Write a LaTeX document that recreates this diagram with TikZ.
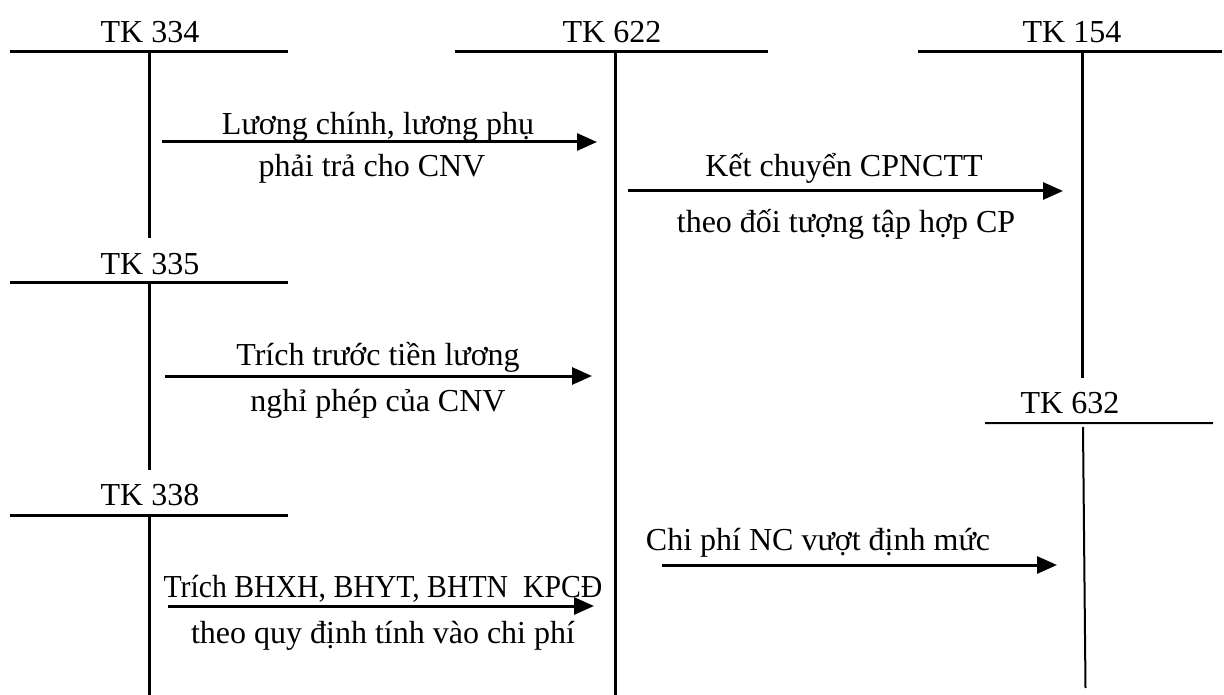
\documentclass[tikz,border=0pt]{standalone}
\usepackage{fontspec}
\setmainfont{Liberation Serif}
\usepackage{graphicx}
\usetikzlibrary{arrows.meta}

\begin{document}
\begin{tikzpicture}[x=1pt,y=-1pt,
  acct/.style={line width=3pt},
  thinacct/.style={line width=2pt},
  flow/.style={line width=3pt,-{Triangle[length=20pt,width=17pt]}},
  title/.style={anchor=base,inner sep=0pt,font=\fontsize{32}{38}\selectfont},
  lbl/.style={anchor=base,inner sep=0pt,font=\fontsize{32}{38}\selectfont}]
\useasboundingbox (0,0) rectangle (1224,695);

% ---- account headings ----
\node[title] (h334) at (150,43)  {TK 334};
\node[title] (h622) at (612,43)  {TK 622};
\node[title] (h154) at (1072,43) {TK 154};
\node[title] (h335) at (150,274) {TK 335};
\node[title] (h338) at (150,505) {TK 338};
\node[title] (h632) at (1070,413) {TK 632};

% ---- T-account lines ----
\coordinate (l334) at (10,52);   \coordinate (r334) at (288,52);
\coordinate (t334) at (149,52);  \coordinate (b334) at (149,238);
\coordinate (l335) at (10,283);  \coordinate (r335) at (288,283);
\coordinate (t335) at (149,283); \coordinate (b335) at (149,470);
\coordinate (l338) at (10,515);  \coordinate (r338) at (288,515);
\coordinate (t338) at (149,515); \coordinate (b338) at (149,695);
\coordinate (l622) at (455,52);  \coordinate (r622) at (768,52);
\coordinate (t622) at (615,52);  \coordinate (b622) at (615,695);
\coordinate (l154) at (918,52);  \coordinate (r154) at (1222,52);
\coordinate (t154) at (1082,52); \coordinate (b154) at (1082,378);
\coordinate (l632) at (985,423); \coordinate (r632) at (1213,423);
\coordinate (t632) at (1083,427);\coordinate (b632) at (1085.5,688);

\draw[acct] (l334) -- (r334) (t334) -- (b334);
\draw[acct] (l335) -- (r335) (t335) -- (b335);
\draw[acct] (l338) -- (r338) (t338) -- (b338);
\draw[acct] (l622) -- (r622) (t622) -- (b622);
\draw[acct] (l154) -- (r154) (t154) -- (b154);
\draw[thinacct] (l632) -- (r632) (t632) -- (b632);

% ---- postings ----
\coordinate (s1) at (162,142);  \coordinate (e1) at (597,142);
\coordinate (s2) at (628,191);  \coordinate (e2) at (1063,191);
\coordinate (s3) at (165,376);  \coordinate (e3) at (592,376);
\coordinate (s4) at (662,565);  \coordinate (e4) at (1057,565);
\coordinate (s5) at (168,606);  \coordinate (e5) at (594,606);

\draw[flow] (s1) -- (e1);
\draw[flow] (s2) -- (e2);
\draw[flow] (s3) -- (e3);
\draw[flow] (s4) -- (e4);
\draw[flow] (s5) -- (e5);

\node[lbl] (t1a) at (378,135) {Lương chính, lương phụ};
\node[lbl] (t1b) at (372,177) {phải trả cho CNV};
\node[lbl] (t2a) at (844,177) {Kết chuyển CPNCTT};
\node[lbl] (t2b) at (846,233) {theo đối tượng tập hợp CP};
\node[lbl] (t3a) at (378,365) {Trích trước tiền lương};
\node[lbl] (t3b) at (378,411) {nghỉ phép của CNV};
\node[lbl] (t4)  at (818,550) {Chi phí NC vượt định mức};
\node[lbl] (t5a) at (383,597) {\scalebox{0.93}[1]{Trích BHXH, BHYT, BHTN\ \ KPCĐ}};
\node[lbl] (t5b) at (383,643) {theo quy định tính vào chi phí};
\end{tikzpicture}
\end{document}
